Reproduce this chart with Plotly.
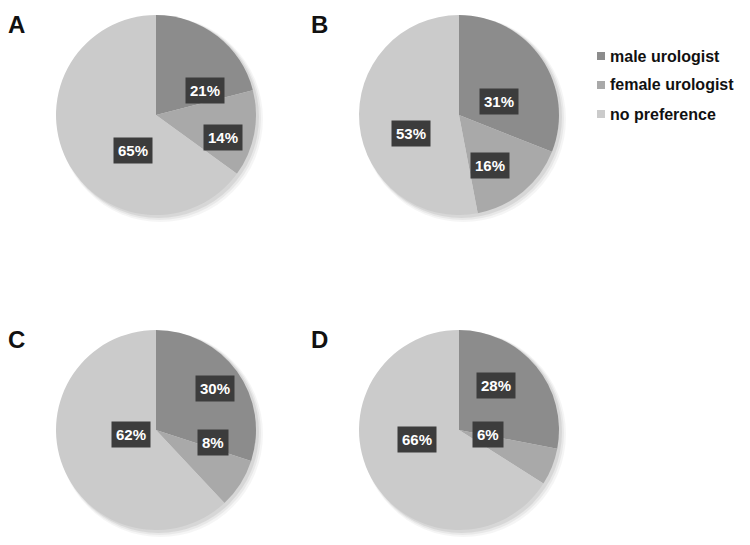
import math
import plotly.graph_objects as go

# data
categories = ["male urologist", "female urologist", "no preference"]
panels = ["A", "B", "C", "D"]
pct_A = [21, 14, 65]
pct_B = [31, 16, 53]
pct_C = [30, 8, 62]
pct_D = [28, 6, 66]
values = [pct_A, pct_B, pct_C, pct_D]

colors = ["#8c8c8c", "#a9a9a9", "#cbcbcb"]

W, H = 750, 545
R = 100
centers = [(156, 115), (459, 115), (156, 430), (459, 430)]
font = "Liberation Sans, Arial"

fig = go.Figure()

annotations = []
shapes = []
for name, vals, (cx, cy) in zip(panels, values, centers):
    fig.add_trace(go.Pie(
        labels=categories, values=vals, sort=False, direction="clockwise",
        marker=dict(colors=colors, line=dict(width=0)),
        textinfo="none", hoverinfo="label+percent", showlegend=False,
        domain=dict(x=[(cx - R) / W, (cx + R) / W],
                    y=[1 - (cy + R) / H, 1 - (cy - R) / H]),
    ))
    # soft shadow
    for k, op in [(7, 0.04), (5, 0.05), (3, 0.07)]:
        shapes.append(dict(type="circle", xref="paper", yref="paper", layer="below",
                           x0=(cx - R + 2) / W, x1=(cx + R + k) / W,
                           y0=1 - (cy + R + k) / H, y1=1 - (cy - R + 1) / H,
                           fillcolor="rgba(0,0,0,%s)" % op, line=dict(width=0)))
    # panel letter
    annotations.append(dict(text="<b>%s</b>" % name, x=(cx - 140) / W, y=1 - (cy - 91) / H,
                            xref="paper", yref="paper", showarrow=False,
                            xanchor="center", yanchor="middle",
                            font=dict(size=24, color="#111111", family=font)))
    # percentage labels in dark boxes
    total = sum(vals)
    cum = 0
    for v in vals:
        mid = (cum + v / 2) / total * 2 * math.pi
        cum += v
        px = cx + 0.48 * R * math.sin(mid)
        py = cy - 0.48 * R * math.cos(mid)
        annotations.append(dict(text="<b>%d%%</b>" % v, x=px / W, y=1 - py / H,
                                xref="paper", yref="paper", showarrow=False,
                                bgcolor="#3c3c3c", borderpad=4,
                                font=dict(size=15, color="white", family=font)))

# legend (drawn by hand to match the tight spacing)
leg_x, leg_y, leg_gap = 597, 56, 29
for i, (cat, col) in enumerate(zip(categories, colors)):
    yc = leg_y + i * leg_gap
    shapes.append(dict(type="rect", xref="paper", yref="paper",
                       x0=leg_x / W, x1=(leg_x + 8) / W,
                       y0=1 - (yc + 4) / H, y1=1 - (yc - 4) / H,
                       fillcolor=col, line=dict(width=0)))
    annotations.append(dict(text="<b>%s</b>" % cat, x=(leg_x + 11) / W, y=1 - yc / H,
                            xref="paper", yref="paper", showarrow=False,
                            xanchor="left", yanchor="middle",
                            font=dict(size=16, color="#111111", family=font)))

fig.update_layout(
    width=W, height=H,
    margin=dict(l=0, r=0, t=0, b=0),
    paper_bgcolor="white", plot_bgcolor="white",
    annotations=annotations, shapes=shapes,
    showlegend=False,
)

fig.write_html("out.html", config={"displayModeBar": False},
               post_script="document.body.style.margin='0';")
